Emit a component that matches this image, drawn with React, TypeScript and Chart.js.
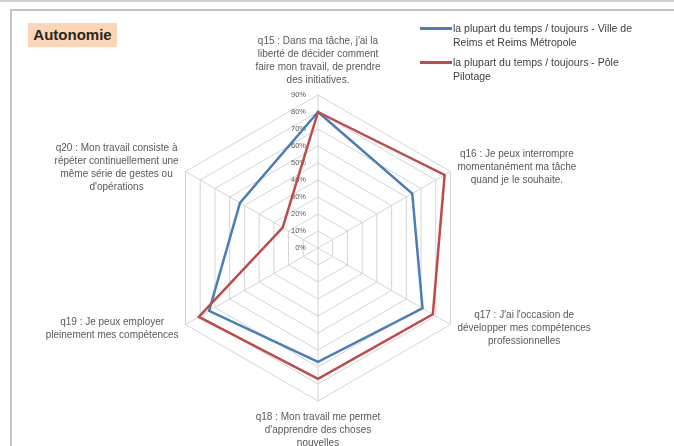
import React, { useEffect, useRef } from "react";
import { Chart, registerables } from "chart.js";

Chart.register(...registerables);

const categories: string[][] = [
  ["q15 : Dans ma tâche, j'ai la", "liberté de décider comment", "faire mon travail, de prendre", "des initiatives."],
  ["q16 : Je peux interrompre", "momentanément ma tâche", "quand je le souhaite."],
  ["q17 : J'ai l'occasion de", "développer mes compétences", "professionnelles"],
  ["q18 : Mon travail me permet", "d'apprendre des choses", "nouvelles"],
  ["q19 : Je peux employer", "pleinement mes compétences"],
  ["q20 : Mon travail consiste à", "répéter continuellement une", "même série de gestes ou", "d'opérations"],
];

const seriesReims = [80, 64, 71, 67, 74, 53];
const seriesPilotage = [80, 86, 78, 77, 81, 24];

const seriesNameLines: string[][] = [
  ["la plupart du temps / toujours - Ville de", "Reims et Reims Métropole"],
  ["la plupart du temps / toujours - Pôle", "Pilotage"],
];

const tickValues = [0, 10, 20, 30, 40, 50, 60, 70, 80, 90];

const BLUE = "#4a7ebb";
const RED = "#be4b48";

const labelFont = "10px 'Liberation Sans', Arial, sans-serif";

const customLabels = {
  id: "customLabels",
  beforeDatasetsDraw(chart: any) {
    const scale = chart.scales.r;
    const ctx = chart.ctx;
    ctx.save();
    ctx.font = "7.5px 'Liberation Sans', Arial, sans-serif";
    ctx.fillStyle = "#595959";
    ctx.textAlign = "right";
    ctx.textBaseline = "middle";
    tickValues.forEach((v) => {
      const d = scale.getDistanceFromCenterForValue(v);
      ctx.fillText(v + "%", scale.xCenter - 12, scale.yCenter - d);
    });
    ctx.restore();
  },
  afterDraw(chart: any) {
    const scale = chart.scales.r;
    const ctx = chart.ctx;
    const lh = 13;
    ctx.save();
    ctx.font = labelFont;
    ctx.fillStyle = "#595959";
    ctx.textAlign = "center";
    ctx.textBaseline = "middle";
    categories.forEach((lines, i) => {
      const p = scale.getPointPosition(i, scale.drawingArea + 8);
      const w = Math.max(...lines.map((l) => ctx.measureText(l).width));
      const h = lines.length * lh;
      let cx = p.x;
      let top = p.y - h / 2;
      const c = Math.cos(p.angle);
      const s = Math.sin(p.angle);
      if (Math.abs(c) < 0.1) {
        top = s < 0 ? p.y - h : p.y + 2;
      } else if (c > 0) {
        cx = p.x + w / 2;
      } else {
        cx = p.x - w / 2;
      }
      lines.forEach((l, k) => {
        ctx.fillText(l, cx, top + lh * k + lh / 2);
      });
    });
    ctx.restore();
  },
};

export default function App() {
  const ref = useRef<HTMLCanvasElement | null>(null);
  useEffect(() => {
    if (!ref.current) return;
    const chart = new Chart(ref.current, {
      type: "radar",
      data: {
        labels: categories.map((c) => c.join(" ")),
        datasets: [
          {
            label: seriesNameLines[0].join(" "),
            data: seriesReims,
            borderColor: BLUE,
            backgroundColor: "transparent",
            borderWidth: 2.5,
            pointRadius: 0,
            fill: false,
            order: 1,
          },
          {
            label: seriesNameLines[1].join(" "),
            data: seriesPilotage,
            borderColor: RED,
            backgroundColor: "transparent",
            borderWidth: 2.5,
            pointRadius: 0,
            fill: false,
            order: 0,
          },
        ],
      },
      options: {
        animation: false,
        responsive: true,
        maintainAspectRatio: false,
        layout: { padding: { left: 165, right: 203, top: 95, bottom: 45 } },
        plugins: { legend: { display: false }, tooltip: { enabled: false }, title: { display: false } },
        scales: {
          r: {
            min: 0,
            max: 90,
            ticks: { display: false, stepSize: 10 },
            pointLabels: { display: false },
            grid: { color: "#d4d4d4", lineWidth: 1 },
            angleLines: { color: "#d4d4d4", lineWidth: 1 },
          },
        },
      },
      plugins: [customLabels],
    });
    return () => chart.destroy();
  }, []);

  const legendText: React.CSSProperties = {
    position: "absolute",
    left: 453,
    width: 220,
    font: "10.5px 'Liberation Sans', Arial, sans-serif",
    lineHeight: "14px",
    color: "#404040",
    whiteSpace: "nowrap",
  };

  const colors = [BLUE, RED];
  const tops = [21, 55];

  return (
    <div style={{ position: "absolute", left: 0, top: 0, width: 674, height: 446, background: "#fff", overflow: "hidden" }}>
      <div style={{ position: "absolute", left: 0, top: 0, width: 674, height: 2, background: "#cfcfcf" }} />
      <div style={{ position: "absolute", left: 10, top: 9, width: 700, height: 500, border: "2px solid #c4c4c4", boxSizing: "border-box" }} />
      <canvas ref={ref} style={{ position: "absolute", left: 0, top: 0, width: 674, height: 446 }} />
      <div
        style={{
          position: "absolute",
          left: 28,
          top: 23,
          width: 89,
          height: 24,
          background: "#fcd5b5",
          font: "bold 15px 'Liberation Sans', Arial, sans-serif",
          color: "#262626",
          lineHeight: "24px",
          textAlign: "center",
        }}
      >
        Autonomie
      </div>
      {seriesNameLines.map((lines, i) => (
        <React.Fragment key={i}>
          <div style={{ position: "absolute", left: 420, top: tops[i] + 6, width: 32, height: 3, background: colors[i] }} />
          <div style={{ ...legendText, top: tops[i] }}>
            {lines.map((l, k) => (
              <div key={k}>{l}</div>
            ))}
          </div>
        </React.Fragment>
      ))}
    </div>
  );
}
